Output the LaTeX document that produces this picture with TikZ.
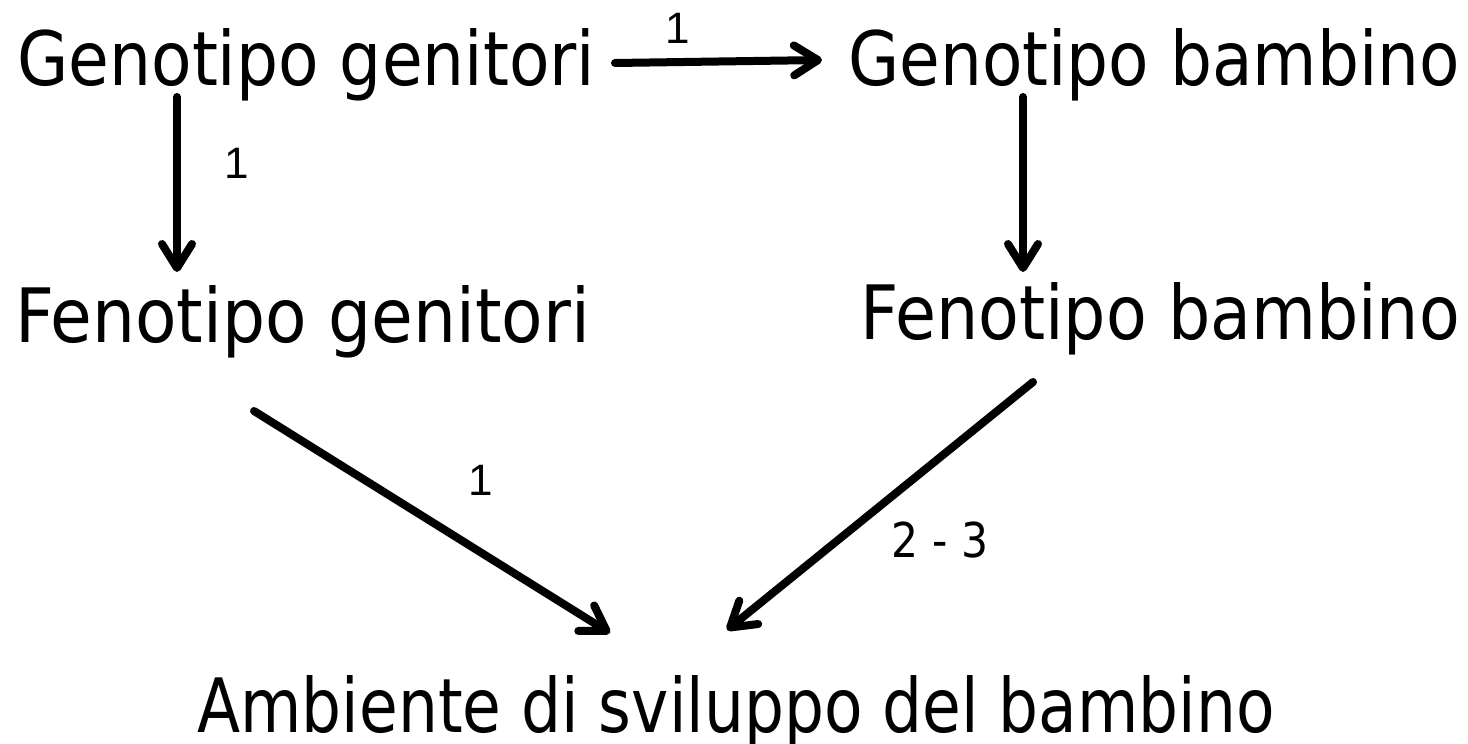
\documentclass[tikz,border=0pt]{standalone}
\usepackage{fontspec}
\setmainfont[FakeStretch=0.885]{DejaVu Sans}
\newfontfamily\labfont{Liberation Sans}
\usetikzlibrary{arrows.meta}
\tikzset{
  lbl/.style={inner sep=0pt, anchor=base west, font=\fontsize{37.5}{44}\selectfont},
  num/.style={inner sep=0pt, font=\labfont\fontsize{22}{26}\selectfont},
  numb/.style={inner sep=0pt, font=\fontsize{24}{28}\selectfont},
  arr/.style={line width=4pt, line cap=round, -{Straight Barb[length=12pt,width=15pt,line width=4pt,round]}},
}
\begin{document}
\begin{tikzpicture}[x=0.5pt,y=-0.5pt]
\useasboundingbox (0,0) rectangle (1468,744);
\node[lbl] (gg) at (17,85) {\scalebox{0.998}[1]{Genotipo genitori}};
\node[lbl] (gb) at (848,85) {\scalebox{0.996}[1]{Genotipo bambino}};
\node[lbl] (fg) at (15,342) {\scalebox{1.022}[1]{Fenotipo genitori}};
\node[lbl] (fb) at (860,339) {\scalebox{1.004}[1]{Fenotipo bambino}};
\node[lbl] (amb) at (197,732) {\scalebox{0.949}[1]{Ambiente di sviluppo del bambino}};
\coordinate (a1s) at (615,63);  \coordinate (a1e) at (822,60);
\coordinate (a2s) at (177,97);  \coordinate (a2e) at (177,272);
\coordinate (a3s) at (1023,97); \coordinate (a3e) at (1023,272);
\coordinate (a4s) at (254,411); \coordinate (a4e) at (610,633);
\coordinate (a5s) at (1033,382); \coordinate (a5e) at (727,630);
\draw[arr] (a1s) -- (a1e);
\draw[arr] (a2s) -- (a2e);
\draw[arr] (a3s) -- (a3e);
\draw[arr] (a4s) -- (a4e);
\draw[arr] (a5s) -- (a5e);
\node[num] (l1) at (678,28) {1};
\node[num] (l2) at (237,163) {1};
\node[num] (l3) at (481,480) {1};
\node[numb] (l4) at (940,540) {2 - 3};
\end{tikzpicture}
\end{document}
